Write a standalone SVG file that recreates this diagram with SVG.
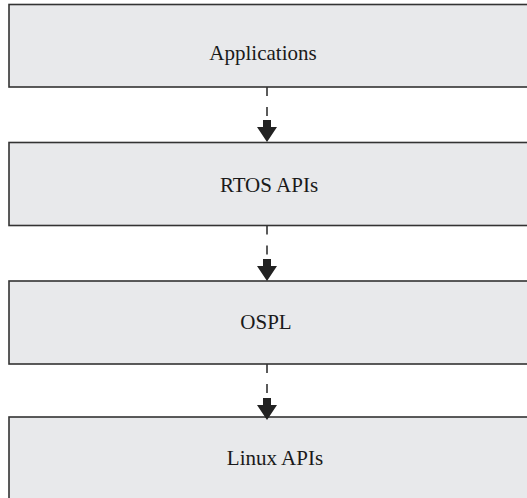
<svg xmlns="http://www.w3.org/2000/svg" width="527" height="498" viewBox="0 0 527 498">
<style>
.box{fill:#e8e9eb;stroke:#333;stroke-width:1.6}
.lbl{font-family:"Liberation Serif","Times New Roman",serif;font-size:21px;fill:#1a1a1a;text-anchor:middle}
.dash{stroke:#333;stroke-width:1.6;stroke-dasharray:9 11;fill:none}
.head{fill:#222}
</style>
<defs>
<path id="arr" d="M-4,0 H4 V7 H10 L0,22 L-10,7 H-4 Z"/>
</defs>
<rect width="527" height="498" fill="#fff"/>
<g id="applications"><rect class="box" x="9" y="4.5" width="530" height="82.5"/><text class="lbl" x="263" y="60">Applications</text></g>
<g id="rtos-apis"><rect class="box" x="9" y="142.5" width="530" height="83"/><text class="lbl" x="269" y="192">RTOS APIs</text></g>
<g id="ospl"><rect class="box" x="9" y="281" width="530" height="83"/><text class="lbl" x="266" y="329">OSPL</text></g>
<g id="linux-apis"><rect class="box" x="9" y="417" width="530" height="100"/><text class="lbl" x="275" y="465">Linux APIs</text></g>
<g id="connectors">
<line class="dash" x1="267" y1="87" x2="267" y2="118"/>
<use href="#arr" class="head" x="267" y="120"/>
<line class="dash" x1="267" y1="225.5" x2="267" y2="256.5"/>
<use href="#arr" class="head" x="267" y="259"/>
<line class="dash" x1="267" y1="364" x2="267" y2="395"/>
<use href="#arr" class="head" x="267" y="398"/>
</g>
</svg>
